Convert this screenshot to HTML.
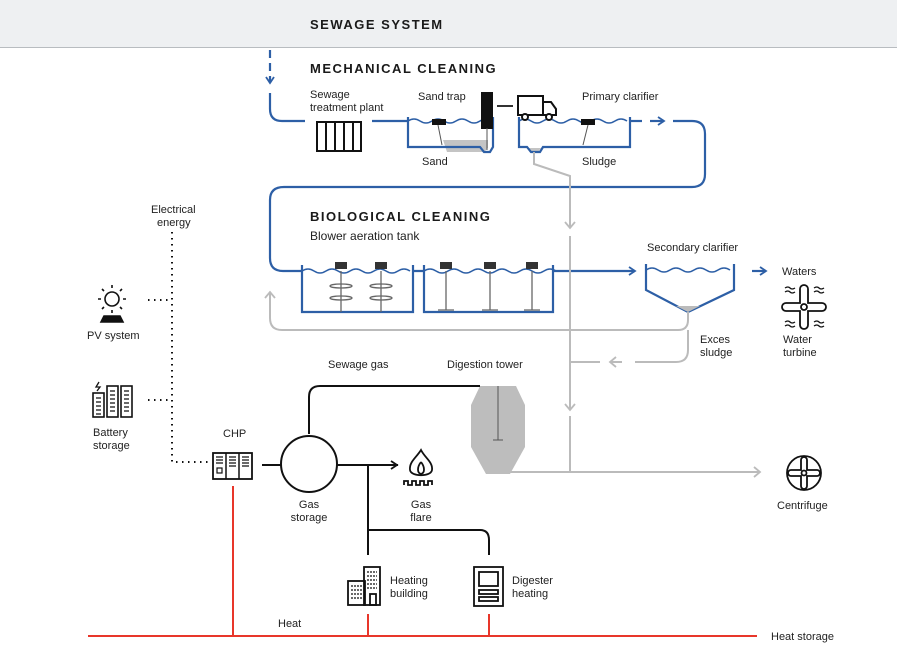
<!DOCTYPE html>
<html><head><meta charset="utf-8"><style>
body{margin:0;background:#fff}
svg{display:block;font-family:"Liberation Sans",sans-serif}
text{font-size:11px;fill:#222}
.h{font-weight:bold;font-size:13px;letter-spacing:1.5px;fill:#1a1a1a}
</style></head><body>
<svg width="897" height="672" viewBox="0 0 897 672">
<defs>
<marker id="ab" markerWidth="10" markerHeight="10" refX="8" refY="5" orient="auto" markerUnits="userSpaceOnUse"><path d="M2,1 L8,5 L2,9" fill="none" stroke="#2d5fa6" stroke-width="1.8"/></marker>
<marker id="ag" markerWidth="12" markerHeight="12" refX="9" refY="6" orient="auto" markerUnits="userSpaceOnUse"><path d="M3,1 L9,6 L3,11" fill="none" stroke="#bbb" stroke-width="1.8"/></marker>
<marker id="ak" markerWidth="10" markerHeight="10" refX="8" refY="5" orient="auto" markerUnits="userSpaceOnUse"><path d="M2,1 L8,5 L2,9" fill="none" stroke="#111" stroke-width="1.8"/></marker>
</defs>
<rect x="0" y="0" width="897" height="47" fill="#eef0f2"/>
<line x1="0" y1="47.5" x2="897" y2="47.5" stroke="#b8bcc0"/>
<text x="310" y="29" class="h">SEWAGE SYSTEM</text>
<text x="310" y="73" class="h">MECHANICAL CLEANING</text>
<text x="310" y="221" class="h">BIOLOGICAL CLEANING</text>
<text x="310" y="240" style="font-size:12px">Blower aeration tank</text>

<path d="M443,140 H488 V148 L484,152 H447 Z" fill="#c4c4c4"/>
<path d="M528,148 H541 L538,152 H531 Z" fill="#c4c4c4"/>
<g fill="none" stroke="#2d5fa6" stroke-width="2.2">
<path d="M270,50 V83" stroke-dasharray="8 5" marker-end="url(#ab)"/>
<path d="M270,93 V109 Q270,121 282,121 H305"/>
<path d="M372,121 H408"/>
<path d="M408,117 V147 H480 L484,152 H490 L493,147 V117"/>
<path d="M519,117 V147 H527 L531,152 H540 L543,147 H630 V117"/>
<path d="M408,121 q6,-4 12,0 t12,0 t12,0 t12,0 t12,0 t12,0 t12,0" stroke-width="1.5"/>
<path d="M519,121 q6,-4 12,0 t12,0 t12,0 t12,0 t12,0 t12,0 t12,0 t12,0 t12,0" stroke-width="1.5"/>
<path d="M630,121 H642"/><path d="M650,121 H664" marker-end="url(#ab)"/>
<path d="M673,121 H692 Q705,121 705,134 V174 Q705,187 692,187 H284 Q270,187 270,200 V258 Q270,271 283,271 H302"/>
<path d="M302,265 V312 H413 V265"/><path d="M424,265 V312 H553 V265"/>
<path d="M302,271 q6,-4 12,0 t12,0 t12,0 t12,0 t12,0 t12,0 t12,0 t12,0 t12,0 M424,271 q6,-4 12,0 t12,0 t12,0 t12,0 t12,0 t12,0 t12,0 t12,0 t12,0 t12,0 t12,0" stroke-width="1.5"/>
<path d="M413,271 H424 M553,271 H635" marker-end="url(#ab)"/>
<path d="M646,264 V290 L688,312 L734,290 V264"/>
<path d="M646,270 q6,-4 12,0 t12,0 t12,0 t12,0 t12,0 t12,0 t12,0" stroke-width="1.5"/>
<path d="M752,271 H766" marker-end="url(#ab)"/>
</g>
<path d="M676,306 L688,312 L700,306 Z" fill="#bbb"/>
<rect x="481" y="92" width="12" height="37" fill="#111"/>
<line x1="487" y1="128" x2="487" y2="150" stroke="#555"/>
<rect x="432" y="119" width="14" height="6" fill="#111"/><path d="M438,125 L442,145" stroke="#555" fill="none"/>
<rect x="581" y="119" width="14" height="6" fill="#111"/><path d="M588,125 L583,145" stroke="#555" fill="none"/>
<line x1="497" y1="106" x2="513" y2="106" stroke="#333" stroke-width="2"/>
<g fill="none" stroke="#111" stroke-width="2">
<rect x="518" y="96" width="25" height="19"/><path d="M543,102 H551 L556,109 V115 H543"/>
<circle cx="525" cy="117" r="3" fill="#fff"/><circle cx="549" cy="117" r="3" fill="#fff"/>
<rect x="317" y="122" width="44" height="29"/><path d="M326,122 V151 M335,122 V151 M344,122 V151 M353,122 V151"/>
</g>
<g stroke="#666" stroke-width="1.3" fill="none">
<path d="M341,271 V312 M381,271 V312 M446,271 V310 M490,271 V310 M532,271 V310 M438,310 H454 M482,310 H498 M524,310 H540"/>
<ellipse cx="341" cy="286" rx="11" ry="2"/><ellipse cx="341" cy="298" rx="11" ry="2"/>
<ellipse cx="381" cy="286" rx="11" ry="2"/><ellipse cx="381" cy="298" rx="11" ry="2"/>
</g>
<g fill="#333"><rect x="335" y="262" width="12" height="7"/><rect x="375" y="262" width="12" height="7"/><rect x="440" y="262" width="12" height="7"/><rect x="484" y="262" width="12" height="7"/><rect x="526" y="262" width="12" height="7"/></g>

<g fill="none" stroke="#bbb" stroke-width="2">
<path d="M534,152 V164 L570,176 V214"/><path d="M570,214 V228" marker-end="url(#ag)"/>
<path d="M570,236 V394"/><path d="M570,394 V410" marker-end="url(#ag)"/>
<path d="M570,416 V472 M510,472 H760" marker-end="url(#ag)"/>
<path d="M688,312 V320 Q688,330 678,330 H282 Q270,330 270,318 V292" marker-end="url(#ag)"/>
<path d="M688,330 V350 Q688,362 676,362 H635 M622,362 H610" marker-end="url(#ag)"/>
<path d="M600,362 H571"/>
</g>
<path d="M480,386 H516 L525,405 V447 L510,474 H486 L471,447 V405 Z" fill="#bdbdbd"/>
<path d="M498,386 V440 M493,440 H503" stroke="#555" fill="none"/>
<g fill="none" stroke="#111" stroke-width="2">
<path d="M480,386 H320 Q309,386 309,397 V434"/>
<circle cx="309" cy="464" r="28"/>
<path d="M262,465 H281 M337,465 H398" /><path d="M380,465 H397" marker-end="url(#ak)"/>
<path d="M368,465 V555 M368,530 H480 Q489,530 489,540 V555"/>
<rect x="213" y="453" width="39" height="26" stroke-width="1.8"/><path d="M226,453 V479 M239,453 V479" stroke-width="1.5"/>
</g>
<g stroke="#111" stroke-width="1.2"><path d="M216,457 H223 M216,460 H223 M216,463 H223 M229,457 H236 M229,460 H236 M229,463 H236 M229,466 H236 M242,457 H249 M242,460 H249 M242,463 H249 M242,466 H249"/><rect x="217" y="468" width="5" height="5" fill="none"/></g>
<g fill="none" stroke="#111" stroke-width="1.8">
<path d="M421,450 C416,458 409,462 410,470 C411,477 431,477 432,470 C433,462 425,458 421,450 Z"/><path d="M421,462 C417,467 417,473 421,474 C425,473 425,467 421,462"/>
<path d="M404,485 v-4 h4 v4 h4 v-4 h4 v4 h4 v-4 h4 v4 h4 v-4 h4 v4"/>
</g>
<g fill="none" stroke="#111" stroke-width="1.8">
<rect x="348" y="581" width="17" height="24"/><rect x="364" y="567" width="16" height="38"/><rect x="370" y="594" width="6" height="11"/>
<path d="M367,572 H377 M367,576 H377 M367,580 H377 M367,584 H377 M367,588 H377 M351,586 H362 M351,590 H362 M351,594 H362 M351,598 H362" stroke-width="1.2" stroke-dasharray="2 1"/>
<rect x="474" y="567" width="29" height="39"/><rect x="479" y="572" width="19" height="14"/><rect x="479" y="590" width="19" height="4"/><rect x="479" y="597" width="19" height="4"/>
</g>
<g stroke="#e8362a" stroke-width="2"><path d="M88,636 H757 M233,486 V636 M368,614 V636 M489,614 V636"/></g>
<g stroke="#111" stroke-width="2" stroke-dasharray="1.5 4.5" fill="none">
<path d="M172,232 V462 H208"/><path d="M148,300 H170 M148,400 H170"/>
</g>
<g fill="none" stroke="#111" stroke-width="1.6">
<circle cx="112" cy="299" r="7"/><path d="M112,285 V288 M112,310 V313 M98,299 H101 M123,299 H126 M102,289 L104,291 M122,289 L120,291 M102,309 L104,307 M122,309 L120,307"/>
<path d="M101,322 L104,316 H120 L123,322 Z" fill="#111"/>
</g>
<g fill="none" stroke="#111" stroke-width="1.6">
<rect x="93" y="393" width="11" height="24"/><rect x="107" y="386" width="11" height="31"/><rect x="121" y="386" width="11" height="31"/>
<path d="M96,398H101M96,402H101M96,406H101M96,410H101M96,414H101 M110,391H115M110,395H115M110,399H115M110,403H115M110,407H115M110,411H115 M124,391H129M124,395H129M124,399H129M124,403H129M124,407H129M124,411H129" stroke-width="1.2"/>
<path d="M99,382 L96,387 H100 L97,391" stroke-width="1.3"/>
</g>
<g fill="none" stroke="#111" stroke-width="1.8">
<g transform="translate(804,307)"><path d="M-4,-4 V-18 A4,4 0 0 1 4,-18 V-4 H18 A4,4 0 0 1 18,4 H4 V18 A4,4 0 0 1 -4,18 V4 H-18 A4,4 0 0 1 -18,-4 Z"/><circle r="3"/></g>
<path d="M785,288 q3,-2 5,0 t5,0 M785,292 q3,-2 5,0 t5,0 M814,288 q3,-2 5,0 t5,0 M814,292 q3,-2 5,0 t5,0 M785,322 q3,-2 5,0 t5,0 M785,326 q3,-2 5,0 t5,0 M814,322 q3,-2 5,0 t5,0 M814,326 q3,-2 5,0 t5,0" stroke-width="1.3"/>
<g transform="translate(804,473)"><circle r="17"/><path d="M-3,-3 V-13 A3,3 0 0 1 3,-13 V-3 H13 A3,3 0 0 1 13,3 H3 V13 A3,3 0 0 1 -3,13 V3 H-13 A3,3 0 0 1 -13,-3 Z"/><circle r="2.5"/></g>
</g>
<text x="310" y="98">Sewage</text><text x="310" y="111">treatment plant</text>
<text x="418" y="100">Sand trap</text><text x="582" y="100">Primary clarifier</text>
<text x="422" y="165">Sand</text><text x="582" y="165">Sludge</text>
<text x="647" y="251">Secondary clarifier</text>
<text x="782" y="275">Waters</text>
<text x="700" y="343">Exces</text><text x="700" y="356">sludge</text>
<text x="783" y="343">Water</text><text x="783" y="356">turbine</text>
<text x="151" y="213">Electrical</text><text x="157" y="226">energy</text>
<text x="87" y="339">PV system</text>
<text x="93" y="436">Battery</text><text x="93" y="449">storage</text>
<text x="328" y="368">Sewage gas</text><text x="447" y="368">Digestion tower</text>
<text x="223" y="437">CHP</text>
<text x="309" y="508" text-anchor="middle">Gas</text><text x="309" y="521" text-anchor="middle">storage</text>
<text x="421" y="508" text-anchor="middle">Gas</text><text x="421" y="521" text-anchor="middle">flare</text>
<text x="390" y="584">Heating</text><text x="390" y="597">building</text>
<text x="512" y="584">Digester</text><text x="512" y="597">heating</text>
<text x="278" y="627">Heat</text><text x="771" y="640">Heat storage</text>
<text x="777" y="509">Centrifuge</text>
</svg>
</body></html>
